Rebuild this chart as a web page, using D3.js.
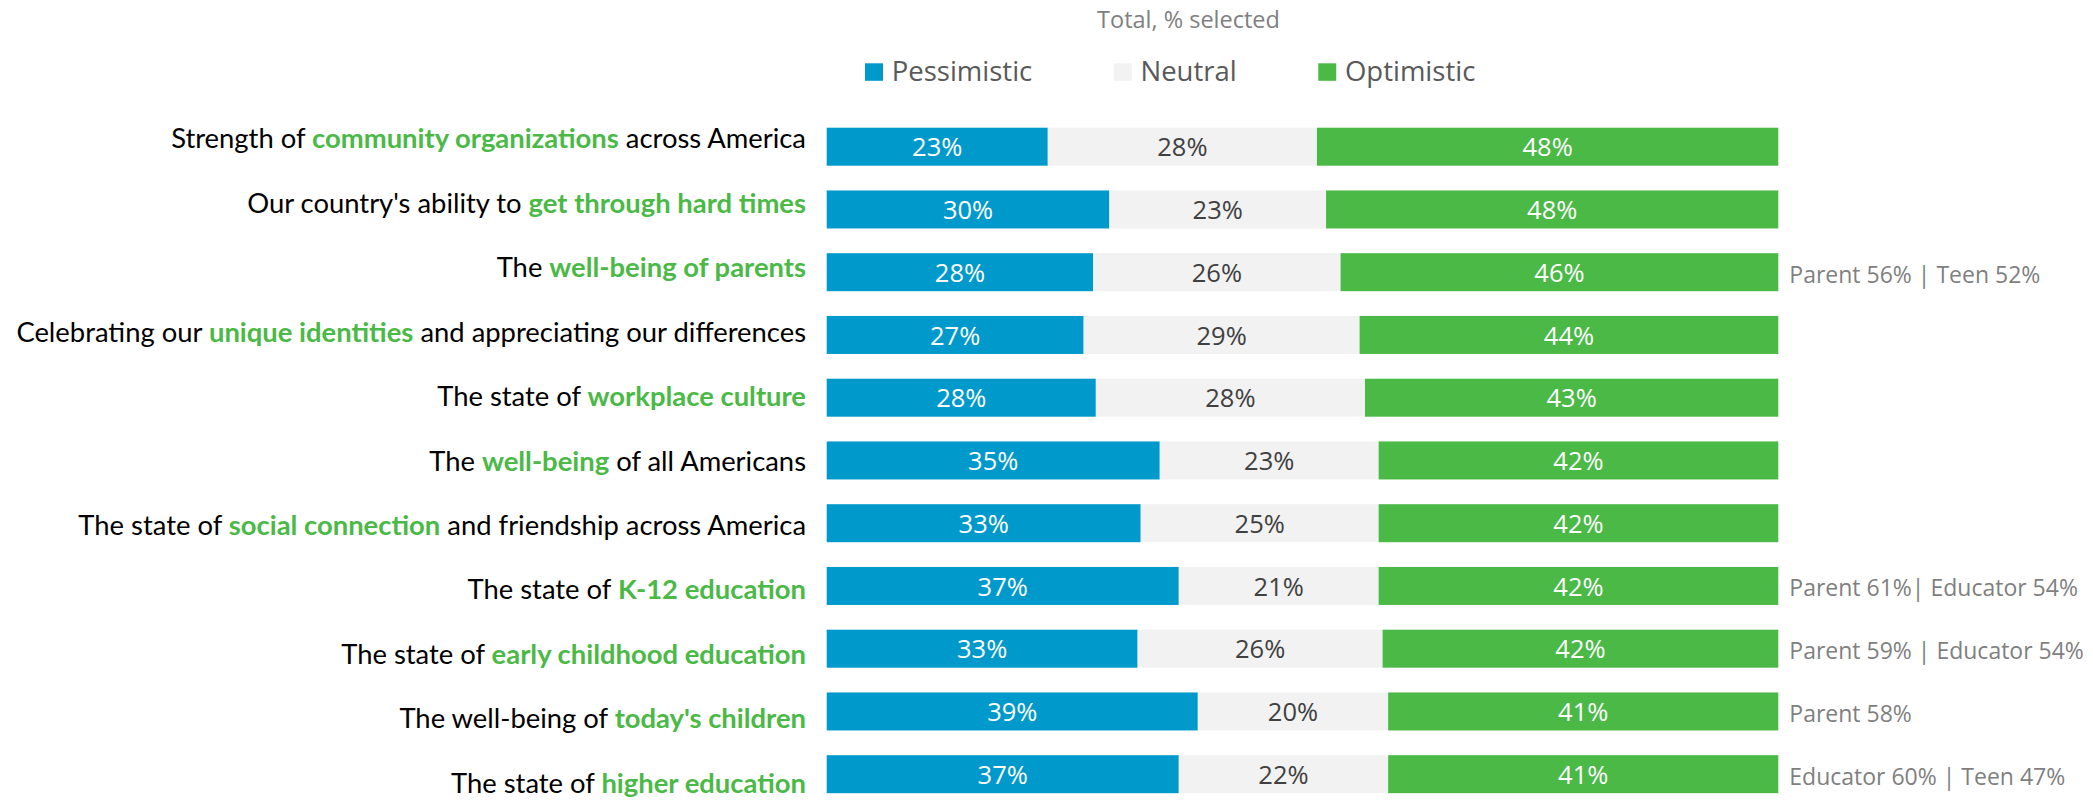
<!DOCTYPE html>
<html>
<head>
<meta charset="utf-8">
<script src="https://cdn.jsdelivr.net/npm/d3@7/dist/d3.min.js"></script>
<style>
  html, body { margin: 0; padding: 0; background: #ffffff; }
  svg { display: block; }
</style>
</head>
<body>
<div id="chart"></div>
<script>
// ---------- DATA ----------
const labelPrefix = [
  "Strength of ",
  "Our country's ability to ",
  "The ",
  "Celebrating our ",
  "The state of ",
  "The ",
  "The state of ",
  "The state of ",
  "The state of ",
  "The well-being of ",
  "The state of "
];
const labelHighlight = [
  "community organizations",
  "get through hard times",
  "well-being of parents",
  "unique identities",
  "workplace culture",
  "well-being",
  "social connection",
  "K-12 education",
  "early childhood education",
  "today's children",
  "higher education"
];
const labelSuffix = [
  " across America",
  "",
  "",
  " and appreciating our differences",
  "",
  " of all Americans",
  " and friendship across America",
  "",
  "",
  "",
  ""
];
const seriesNames = ["Pessimistic", "Neutral", "Optimistic"];
const pessimistic = [23, 30, 28, 27, 28, 35, 33, 37, 33, 39, 37];
const neutral     = [28, 23, 26, 29, 28, 23, 25, 21, 26, 20, 22];
const optimistic  = [48, 48, 46, 44, 43, 42, 42, 42, 42, 41, 41];
const annotations = [
  "", "", "Parent 56% | Teen 52%", "", "", "", "",
  "Parent 61%| Educator 54%", "Parent 59% | Educator 54%",
  "Parent 58%", "Educator 60% | Teen 47%"
];
const chartTitle = "Total, % selected";

// ---------- STYLE ----------
const W = 2093, H = 801;
const colors = { Pessimistic: "#0099CC", Neutral: "#F2F2F2", Optimistic: "#4AB946" };
const valueColors = { Pessimistic: "#ffffff", Neutral: "#404040", Optimistic: "#ffffff" };
const green = "#4AB946";
const labelFont = "Lato, 'Liberation Sans Narrow', sans-serif";
const uiFont = "'Open Sans', 'Noto Sans', sans-serif";

const rows = labelHighlight.map((h, i) => ({
  key: i,
  Pessimistic: pessimistic[i],
  Neutral: neutral[i],
  Optimistic: optimistic[i]
}));

const svg = d3.select("#chart").append("svg")
  .attr("width", W).attr("height", H);

const x = d3.scaleLinear().domain([0, 1]).range([826.7, 1778.3]);
const pIn = 1 - 38 / 62.75;
const y = d3.scaleBand()
  .domain(rows.map(d => d.key))
  .range([127.7 - 62.75 * pIn / 2, 127.7 - 62.75 * pIn / 2 + 62.75 * rows.length])
  .paddingInner(pIn)
  .paddingOuter(pIn / 2);

// category labels sit on their own slightly wider row grid (baselines)
const yLabel = d3.scalePoint()
  .domain(rows.map(d => d.key))
  .range([148.3, 148.3 + 64.45 * (rows.length - 1)]);

const stack = d3.stack().keys(seriesNames).offset(d3.stackOffsetExpand);
const series = stack(rows);

// ---------- TITLE ----------
svg.append("text")
  .attr("x", 1188.5).attr("y", 28.3)
  .attr("text-anchor", "middle")
  .attr("font-family", uiFont)
  .attr("font-size", 23.5)
  .attr("fill", "#808080")
  .text(chartTitle);

// ---------- LEGEND ----------
const legend = svg.append("g").attr("class", "legend");
let lx = 865;
seriesNames.forEach(name => {
  const g = legend.append("g");
  g.append("rect")
    .attr("x", lx).attr("y", 63.3)
    .attr("width", 18).attr("height", 17.5)
    .attr("fill", colors[name]);
  const t = g.append("text")
    .attr("x", lx + 26.7).attr("y", 80.7)
    .attr("font-family", uiFont)
    .attr("font-size", 27.5)
    .attr("fill", "#595959")
    .text(name);
  const w = t.node().getComputedTextLength();
  lx = lx + 26.7 + w + 81.5;
});

// ---------- BARS ----------
const layers = svg.append("g").selectAll("g.layer")
  .data(series).join("g")
  .attr("class", "layer")
  .attr("fill", d => colors[d.key]);

layers.selectAll("rect")
  .data(d => d.map(s => ({ s, key: d.key })))
  .join("rect")
  .attr("x", d => x(d.s[0]))
  .attr("y", d => y(d.s.data.key))
  .attr("width", d => x(d.s[1]) - x(d.s[0]))
  .attr("height", y.bandwidth());

// value labels
const valLayers = svg.append("g").selectAll("g.vals")
  .data(series).join("g")
  .attr("class", "vals");

valLayers.selectAll("text")
  .data(d => d.map(s => ({ s, key: d.key })))
  .join("text")
  .attr("x", d => (x(d.s[0]) + x(d.s[1])) / 2)
  .attr("y", d => y(d.s.data.key) + y.bandwidth() / 2 + 9.7)
  .attr("text-anchor", "middle")
  .attr("font-family", uiFont)
  .attr("font-size", 25.5)
  .attr("fill", d => valueColors[d.key])
  .text(d => d.s.data[d.key] + "%");

// ---------- CATEGORY LABELS ----------
const labels = svg.append("g").selectAll("text")
  .data(rows).join("text")
  .attr("x", 806)
  .attr("y", d => yLabel(d.key))
  .attr("text-anchor", "end")
  .attr("font-family", labelFont)
  .attr("font-size", 27.4)
  .attr("fill", "#000000");

labels.append("tspan").text(d => labelPrefix[d.key]);
labels.append("tspan")
  .attr("font-weight", "bold")
  .attr("fill", green)
  .text(d => labelHighlight[d.key]);
labels.append("tspan").text(d => labelSuffix[d.key]);

// ---------- ANNOTATIONS ----------
svg.append("g").selectAll("text")
  .data(rows.filter(d => annotations[d.key] !== ""))
  .join("text")
  .attr("x", x(1) + 11)
  .attr("y", d => y(d.key) + y.bandwidth() / 2 + 10.5)
  .attr("font-family", uiFont)
  .attr("font-size", 23)
  .attr("fill", "#7f7f7f")
  .text(d => annotations[d.key]);
</script>
</body>
</html>
